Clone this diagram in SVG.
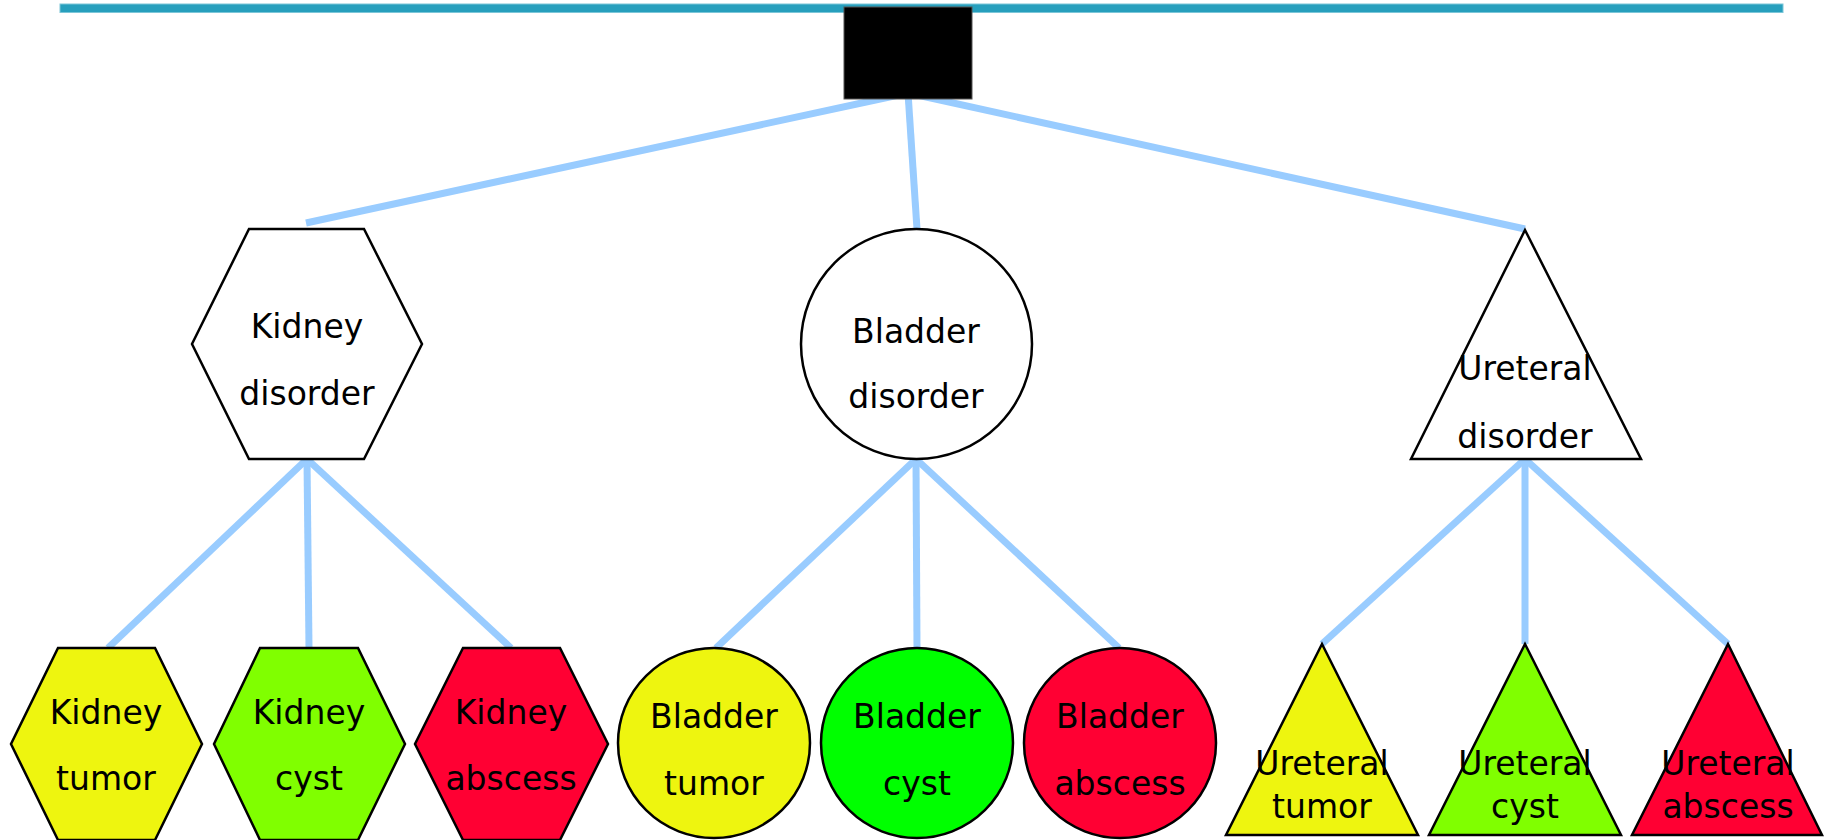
<svg xmlns="http://www.w3.org/2000/svg" width="1824" height="840" viewBox="0 0 1824 840">
<style>
.lbl{font-family:"DejaVu Sans","Liberation Sans",sans-serif;font-size:33px;fill:#000;text-anchor:middle}
.shape{stroke:#000;stroke-width:2.5}
.white{fill:#fff}
.yellow{fill:#eef50f}
.lime{fill:#80ff00}
.green{fill:#00ff00}
.red{fill:#ff0033}
.conn line{stroke:#99ccff;stroke-width:7;stroke-linecap:butt}
</style>
<rect width="1824" height="840" fill="#fff"/>
<rect id="topbar" x="60" y="4" width="1723" height="8.5" fill="#279fbd" stroke="#7cc6d8" stroke-width="1"/>
<g id="connectors" class="conn">
<line x1="908" y1="93" x2="306" y2="223"/>
<line x1="908" y1="93" x2="917" y2="229"/>
<line x1="908" y1="93" x2="1525" y2="229"/>
<line x1="307" y1="459" x2="108" y2="648"/>
<line x1="307" y1="459" x2="309" y2="648"/>
<line x1="307" y1="459" x2="511" y2="648"/>
<line x1="916" y1="459" x2="716" y2="648"/>
<line x1="916" y1="459" x2="917" y2="648"/>
<line x1="916" y1="459" x2="1119" y2="648"/>
<line x1="1525" y1="459" x2="1322" y2="644"/>
<line x1="1525" y1="459" x2="1525" y2="644"/>
<line x1="1525" y1="459" x2="1728" y2="644"/>
</g>
<g id="root"><rect x="844" y="7" width="128" height="92" fill="#000" stroke="#555" stroke-width="1"/></g>
<g id="kidney-disorder">
<polygon class="shape white" points="249,229 364,229 422,344 364,459 249,459 192,344"/>
<text class="lbl" x="307" y="338">Kidney</text>
<text class="lbl" x="307" y="405">disorder</text>
</g>
<g id="bladder-disorder">
<ellipse class="shape white" cx="916.5" cy="344" rx="115.5" ry="115"/>
<text class="lbl" x="916" y="343">Bladder</text>
<text class="lbl" x="916" y="408">disorder</text>
</g>
<g id="ureteral-disorder">
<polygon class="shape white" points="1525,230 1641,459 1411,459"/>
<text class="lbl" x="1525" y="380">Ureteral</text>
<text class="lbl" x="1525" y="448">disorder</text>
</g>
<g id="kidney-tumor">
<polygon class="shape yellow" points="58,648 155,648 202,744 155,840 58,840 11,744"/>
<text class="lbl" x="106" y="724">Kidney</text>
<text class="lbl" x="106" y="790">tumor</text>
</g>
<g id="kidney-cyst">
<polygon class="shape lime" points="260,648 358,648 405,744 358,840 260,840 214,744"/>
<text class="lbl" x="309" y="724">Kidney</text>
<text class="lbl" x="309" y="790">cyst</text>
</g>
<g id="kidney-abscess">
<polygon class="shape red" points="463,648 560,648 608,744 560,840 463,840 415,744"/>
<text class="lbl" x="511" y="724">Kidney</text>
<text class="lbl" x="511" y="790">abscess</text>
</g>
<g id="bladder-tumor">
<ellipse class="shape yellow" cx="714" cy="743" rx="96" ry="95"/>
<text class="lbl" x="714" y="728">Bladder</text>
<text class="lbl" x="714" y="795">tumor</text>
</g>
<g id="bladder-cyst">
<ellipse class="shape green" cx="917" cy="743" rx="96" ry="95"/>
<text class="lbl" x="917" y="728">Bladder</text>
<text class="lbl" x="917" y="795">cyst</text>
</g>
<g id="bladder-abscess">
<ellipse class="shape red" cx="1120" cy="743" rx="96" ry="95"/>
<text class="lbl" x="1120" y="728">Bladder</text>
<text class="lbl" x="1120" y="795">abscess</text>
</g>
<g id="ureteral-tumor">
<polygon class="shape yellow" points="1322,644 1418,835 1226,835"/>
<text class="lbl" x="1322" y="775">Ureteral</text>
<text class="lbl" x="1322" y="818">tumor</text>
</g>
<g id="ureteral-cyst">
<polygon class="shape lime" points="1525,644 1621,835 1429,835"/>
<text class="lbl" x="1525" y="775">Ureteral</text>
<text class="lbl" x="1525" y="818">cyst</text>
</g>
<g id="ureteral-abscess">
<polygon class="shape red" points="1728,644 1822,835 1632,835"/>
<text class="lbl" x="1728" y="775">Ureteral</text>
<text class="lbl" x="1728" y="818">abscess</text>
</g>
</svg>
